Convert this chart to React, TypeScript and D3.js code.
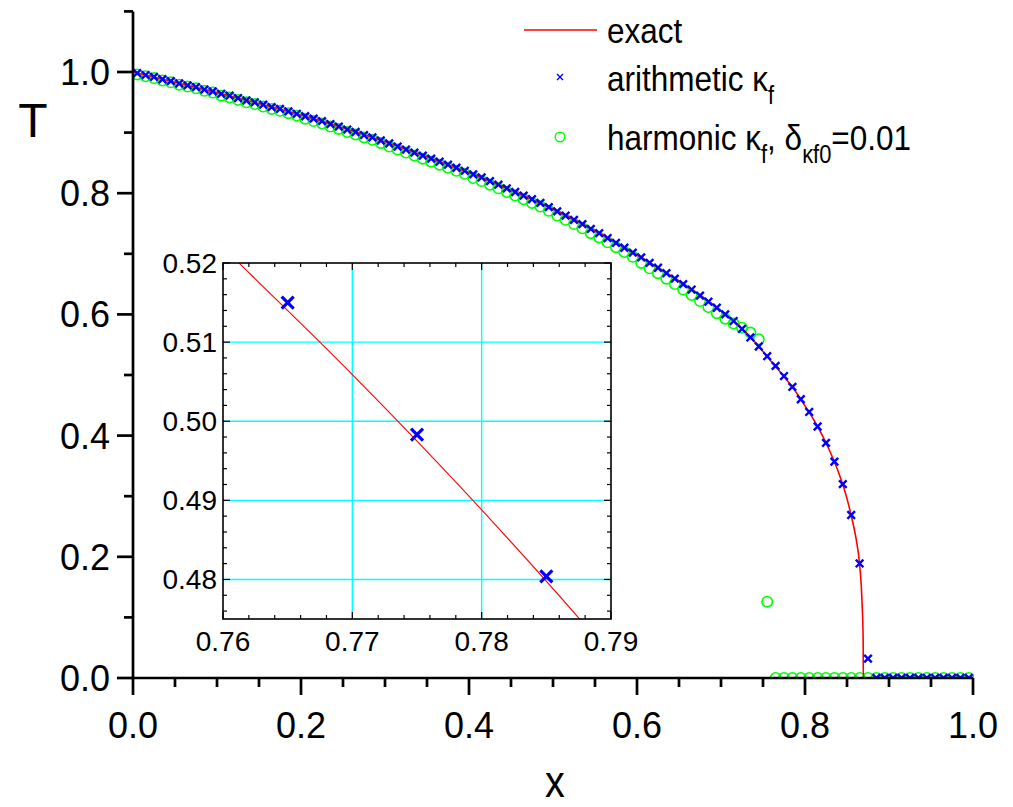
import React from "react";
import * as d3 from "d3";

// ---- data ----
const cellX = [
  0.005, 0.015, 0.025, 0.035, 0.045, 0.055, 0.065, 0.075, 0.085, 0.095,
  0.105, 0.115, 0.125, 0.135, 0.145, 0.155, 0.165, 0.175, 0.185, 0.195,
  0.205, 0.215, 0.225, 0.235, 0.245, 0.255, 0.265, 0.275, 0.285, 0.295,
  0.305, 0.315, 0.325, 0.335, 0.345, 0.355, 0.365, 0.375, 0.385, 0.395,
  0.405, 0.415, 0.425, 0.435, 0.445, 0.455, 0.465, 0.475, 0.485, 0.495,
  0.505, 0.515, 0.525, 0.535, 0.545, 0.555, 0.565, 0.575, 0.585, 0.595,
  0.605, 0.615, 0.625, 0.635, 0.645, 0.655, 0.665, 0.675, 0.685, 0.695,
  0.705, 0.715, 0.725, 0.735, 0.745, 0.755, 0.765, 0.775, 0.785, 0.795,
  0.805, 0.815, 0.825, 0.835, 0.845, 0.855, 0.865, 0.875, 0.885, 0.895,
  0.905, 0.915, 0.925, 0.935, 0.945, 0.955, 0.965, 0.975, 0.985, 0.995,
];

const arithmeticT = [
  0.998, 0.995, 0.992, 0.988, 0.985, 0.981, 0.978, 0.975, 0.971, 0.968,
  0.964, 0.961, 0.957, 0.953, 0.95, 0.946, 0.942, 0.939, 0.935, 0.931,
  0.927, 0.923, 0.919, 0.914, 0.91, 0.905, 0.901, 0.896, 0.892, 0.887,
  0.882, 0.877, 0.872, 0.867, 0.862, 0.857, 0.852, 0.847, 0.842, 0.837,
  0.831, 0.826, 0.82, 0.814, 0.808, 0.802, 0.796, 0.79, 0.784, 0.777,
  0.77, 0.763, 0.756, 0.749, 0.741, 0.734, 0.726, 0.718, 0.71, 0.702,
  0.694, 0.685, 0.677, 0.668, 0.659, 0.65, 0.641, 0.631, 0.621, 0.611,
  0.6, 0.589, 0.576, 0.562, 0.547, 0.531, 0.515, 0.4983, 0.4804, 0.46,
  0.439, 0.415, 0.388, 0.357, 0.32, 0.269, 0.189, 0.032, 0, 0,
  0, 0, 0, 0, 0, 0, 0, 0, 0, 0,
];

const harmonicT = [
  0.996, 0.993, 0.99, 0.986, 0.983, 0.979, 0.976, 0.973, 0.969, 0.966,
  0.961, 0.958, 0.954, 0.95, 0.947, 0.943, 0.939, 0.936, 0.932, 0.928,
  0.923, 0.919, 0.915, 0.91, 0.906, 0.901, 0.897, 0.892, 0.888, 0.883,
  0.877, 0.872, 0.867, 0.862, 0.857, 0.852, 0.847, 0.842, 0.837, 0.832,
  0.825, 0.82, 0.814, 0.808, 0.802, 0.796, 0.79, 0.784, 0.778, 0.771,
  0.763, 0.756, 0.749, 0.742, 0.734, 0.727, 0.719, 0.711, 0.703, 0.695,
  0.685, 0.676, 0.668, 0.659, 0.65, 0.641, 0.632, 0.622, 0.612, 0.602,
  0.593, 0.585, 0.578, 0.57, 0.559, 0.126, 0, 0, 0, 0,
  0, 0, 0, 0, 0, 0, 0, 0, 0, 0,
  0, 0, 0, 0, 0, 0, 0, 0, 0, 0,
];

const exactX = [
  0, 0.05, 0.1, 0.15, 0.2, 0.25, 0.3, 0.35, 0.4, 0.45, 0.5, 0.55, 0.6, 0.65,
  0.7, 0.72, 0.74, 0.76, 0.77, 0.78, 0.79, 0.8, 0.81, 0.82, 0.83, 0.84, 0.85,
  0.855, 0.86, 0.865, 0.867, 0.8683, 0.869, 0.8693, 0.8694, 1.0,
];
const exactT = [
  1.0, 0.983, 0.966, 0.948, 0.929, 0.908, 0.885, 0.86, 0.834, 0.805, 0.774,
  0.738, 0.698, 0.655, 0.606, 0.583, 0.555, 0.522, 0.5059, 0.4888, 0.4703,
  0.449, 0.427, 0.402, 0.373, 0.339, 0.296, 0.268, 0.236, 0.188, 0.152,
  0.112, 0.08, 0.05, 0, 0,
];

const xMajorTicks = [0, 0.2, 0.4, 0.6, 0.8, 1.0];
const xMinorTicks = [0.05, 0.1, 0.15, 0.25, 0.3, 0.35, 0.45, 0.5, 0.55, 0.65, 0.7, 0.75, 0.85, 0.9, 0.95];
const yMajorTicks = [0, 0.2, 0.4, 0.6, 0.8, 1.0];
const yMinorTicks = [0.1, 0.3, 0.5, 0.7, 0.9, 1.1];

const insetXMajor = [0.76, 0.77, 0.78, 0.79];
const insetYMajor = [0.48, 0.49, 0.5, 0.51, 0.52];
const insetXMinor = [
  0.762, 0.764, 0.766, 0.768, 0.772, 0.774, 0.776, 0.778, 0.782, 0.784, 0.786, 0.788,
];
const insetYMinor = [
  0.476, 0.478, 0.482, 0.484, 0.486, 0.488, 0.492, 0.494, 0.496, 0.498, 0.502, 0.504,
  0.506, 0.508, 0.512, 0.514, 0.516, 0.518,
];
const insetXGrid = [0.77, 0.78];
const insetYGrid = [0.48, 0.49, 0.5, 0.51];

const RED = "#ff0000";
const BLUE = "#0000ff";
const GREEN = "#00ff00";
const CYAN = "#00ffff";
const FONT = "'Liberation Sans', Arial, sans-serif";

function crossPath(cx: number, cy: number, s: number) {
  return `M${cx - s},${cy - s}L${cx + s},${cy + s}M${cx - s},${cy + s}L${cx + s},${cy - s}`;
}

export default function App() {
  const x = d3.scaleLinear().domain([0, 1]).range([133, 973]);
  const y = d3.scaleLinear().domain([0, 1.1]).range([678, 11.4]);

  const xi = d3.scaleLinear().domain([0.76, 0.79]).range([223, 611]);
  const yi = d3.scaleLinear().domain([0.475, 0.52]).range([619, 263]);

  const exactPts: [number, number][] = exactX.map((v, i) => [v, exactT[i]]);
  const lineMain = d3
    .line<[number, number]>()
    .x((d) => x(d[0]))
    .y((d) => y(d[1]))
    .curve(d3.curveMonotoneX);
  const lineInset = d3
    .line<[number, number]>()
    .x((d) => xi(d[0]))
    .y((d) => yi(d[1]))
    .curve(d3.curveMonotoneX);

  const fmt1 = d3.format(".1f");
  const fmt2 = d3.format(".2f");

  const x0 = x(0), x1 = x(1), yb = y(0), yt = y(1.1);
  const [ixl, ixr] = xi.range();
  const [iyb, iyt] = yi.range();

  return (
    <svg
      width={1013}
      height={807}
      style={{ position: "absolute", left: 0, top: 0, background: "#fff" }}
      fontFamily={FONT}
    >
      <defs>
        <clipPath id="mainClip">
          <rect x={x0} y={yt} width={x1 - x0 + 1} height={yb - yt} />
        </clipPath>
        <clipPath id="insetClip">
          <rect x={ixl} y={iyt} width={ixr - ixl} height={iyb - iyt} />
        </clipPath>
      </defs>
      <rect width={1013} height={807} fill="#fff" />

      {/* main data */}
      <g clipPath="url(#mainClip)">
        {cellX.map((cx, i) => (
          <circle
            key={"h" + i}
            cx={x(cx)}
            cy={y(harmonicT[i])}
            r={5.2}
            fill="none"
            stroke={GREEN}
            strokeWidth={1.6}
          />
        ))}
        <path d={lineMain(exactPts) || ""} fill="none" stroke={RED} strokeWidth={1.6} />
        {cellX.map((cx, i) => (
          <path
            key={"a" + i}
            d={crossPath(x(cx), y(arithmeticT[i]), 3.8)}
            stroke={BLUE}
            strokeWidth={2.4}
            fill="none"
          />
        ))}
      </g>

      {/* main axes */}
      <g stroke="#000" strokeWidth={2.7} fill="none">
        <line x1={x0} y1={yt} x2={x0} y2={yb + 1.3} />
        <line x1={x0 - 1.3} y1={yb} x2={x1} y2={yb} />
        {xMajorTicks.map((t) => (
          <line key={"xM" + t} x1={x(t)} x2={x(t)} y1={yb} y2={yb + 17} />
        ))}
        {xMinorTicks.map((t) => (
          <line key={"xm" + t} x1={x(t)} x2={x(t)} y1={yb} y2={yb + 9} />
        ))}
        {yMajorTicks.map((t) => (
          <line key={"yM" + t} x1={x0 - 16} x2={x0} y1={y(t)} y2={y(t)} />
        ))}
        {yMinorTicks.map((t) => (
          <line key={"ym" + t} x1={x0 - 9} x2={x0} y1={y(t)} y2={y(t)} />
        ))}
      </g>
      <g fontSize={36} fill="#000">
        {xMajorTicks.map((t) => (
          <text key={"xl" + t} x={x(t)} y={738} textAnchor="middle">
            {fmt1(t)}
          </text>
        ))}
        {yMajorTicks.map((t) => (
          <text key={"yl" + t} x={110} y={y(t) + 13} textAnchor="end">
            {fmt1(t)}
          </text>
        ))}
      </g>
      <text x={33} y={137} fontSize={48} textAnchor="middle">
        T
      </text>
      <text x={0} y={0} fontSize={44} textAnchor="middle" transform="translate(555,797) scale(0.9,1)">
        x
      </text>

      {/* legend */}
      <line x1={524} x2={597} y1={30} y2={30} stroke={RED} strokeWidth={1.6} />
      <path d={crossPath(560, 77, 3)} stroke={BLUE} strokeWidth={1.4} fill="none" />
      <circle cx={560} cy={137} r={4.8} fill="none" stroke={GREEN} strokeWidth={1.4} />
      <g fontSize={36} fill="#000">
        <text transform="translate(607,43) scale(0.875,1)">exact</text>
        <text transform="translate(607,91) scale(0.875,1)">
          arithmetic κ
          <tspan fontSize={25} dy={13}>f</tspan>
        </text>
        <text transform="translate(607,150) scale(0.875,1)">
          harmonic κ
          <tspan fontSize={25} dy={13}>f</tspan>
          <tspan dy={-13}>, δ</tspan>
          <tspan fontSize={25} dy={13}>κf0</tspan>
          <tspan dy={-13}>=0.01</tspan>
        </text>
      </g>

      {/* inset */}
      <rect x={ixl} y={iyt} width={ixr - ixl} height={iyb - iyt} fill="#fff" />
      <g stroke={CYAN} strokeWidth={1.4}>
        {insetXGrid.map((t) => (
          <line key={"gx" + t} x1={xi(t)} x2={xi(t)} y1={iyb} y2={iyt} />
        ))}
        {insetYGrid.map((t) => (
          <line key={"gy" + t} x1={ixl} x2={ixr} y1={yi(t)} y2={yi(t)} />
        ))}
      </g>
      <g clipPath="url(#insetClip)">
        <path d={lineInset(exactPts) || ""} fill="none" stroke={RED} strokeWidth={1.1} />
        {cellX.map((cx, i) => (
          <path
            key={"ia" + i}
            d={crossPath(xi(cx), yi(arithmeticT[i]), 6)}
            stroke={BLUE}
            strokeWidth={3.2}
            fill="none"
          />
        ))}
      </g>
      <g stroke="#000" strokeWidth={1.2} fill="none">
        <rect x={ixl} y={iyt} width={ixr - ixl} height={iyb - iyt} strokeWidth={1.6} />
        {insetXMajor.map((t) => (
          <g key={"ixM" + t}>
            <line x1={xi(t)} x2={xi(t)} y1={iyb} y2={iyb - 7} />
            <line x1={xi(t)} x2={xi(t)} y1={iyt} y2={iyt + 7} />
          </g>
        ))}
        {insetXMinor.map((t) => (
          <g key={"ixm" + t}>
            <line x1={xi(t)} x2={xi(t)} y1={iyb} y2={iyb - 4} />
            <line x1={xi(t)} x2={xi(t)} y1={iyt} y2={iyt + 4} />
          </g>
        ))}
        {insetYMajor.map((t) => (
          <g key={"iyM" + t}>
            <line x1={ixl} x2={ixl + 7} y1={yi(t)} y2={yi(t)} />
            <line x1={ixr} x2={ixr - 7} y1={yi(t)} y2={yi(t)} />
          </g>
        ))}
        {insetYMinor.map((t) => (
          <g key={"iym" + t}>
            <line x1={ixl} x2={ixl + 4} y1={yi(t)} y2={yi(t)} />
            <line x1={ixr} x2={ixr - 4} y1={yi(t)} y2={yi(t)} />
          </g>
        ))}
      </g>
      <g fontSize={28} fill="#000">
        {insetXMajor.map((t) => (
          <text key={"ixl" + t} x={xi(t)} y={651} textAnchor="middle">
            {fmt2(t)}
          </text>
        ))}
        {insetYMajor.map((t) => (
          <text key={"iyl" + t} x={217} y={yi(t) + 10} textAnchor="end">
            {fmt2(t)}
          </text>
        ))}
      </g>
    </svg>
  );
}
